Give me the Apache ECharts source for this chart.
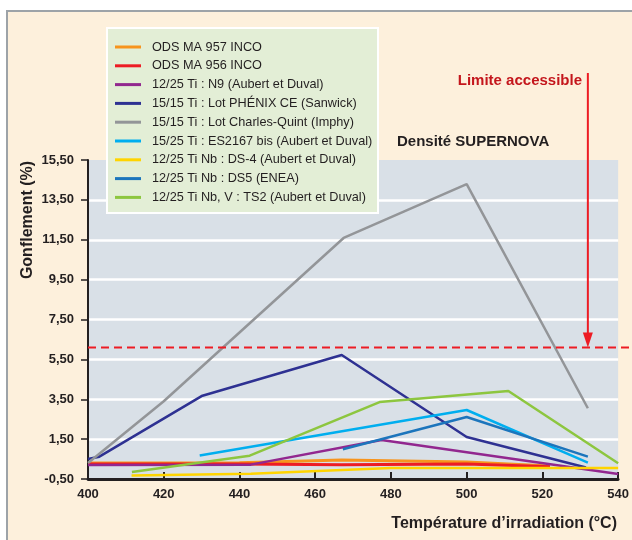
<!DOCTYPE html>
<html><head><meta charset="utf-8">
<script src="https://cdn.jsdelivr.net/npm/echarts@6/dist/echarts.min.js"></script>
<style>
html{overflow:hidden;background:#fff;}
body{margin:0;padding:0;background:#fff;}
#chart{position:absolute;left:0;top:0;width:632px;height:540px;}
</style></head>
<body><div id="chart"></div>
<script>
// ---- data ----
const seriesNames = [
  'ODS MA 957 INCO',
  'ODS MA 956 INCO',
  '12/25 Ti : N9 (Aubert et Duval)',
  '15/15 Ti : Lot PHÉNIX CE (Sanwick)',
  '15/15 Ti : Lot Charles-Quint (Imphy)',
  '15/25 Ti : ES2167 bis (Aubert et Duval)',
  '12/25 Ti Nb : DS-4 (Aubert et Duval)',
  '12/25 Ti Nb : DS5 (ENEA)',
  '12/25 Ti Nb, V : TS2 (Aubert et Duval)'
];
const ods957 = [[400,0.30],[440,0.32],[467,0.45],[500,0.35],[522,0.15]];
const ods956 = [[400,0.25],[440,0.25],[467,0.22],[500,0.25],[522,0.12]];
const n9 = [[400,0.20],[443,0.22],[477.5,1.46],[540,-0.25]];
const phenix = [[400,0.50],[403,0.62],[430,3.66],[467,5.72],[500,1.61],[531.5,0.08]];
const charlesQuint = [[400,0.30],[420,3.40],[467.5,11.59],[500,14.29],[532,3.05]];
const es2167 = [[429.5,0.68],[500,2.96],[532,0.32]];
const ds4 = [[411.5,-0.33],[443,-0.24],[480,0.05],[540,0.05]];
const ds5 = [[467.3,0.99],[500,2.61],[532,0.62]];
const ts2 = [[411.6,-0.15],[442.7,0.67],[477,3.36],[511,3.91],[540,0.29]];
const seriesData = [ods957, ods956, n9, phenix, charlesQuint, es2167, ds4, ds5, ts2];
const seriesColors = ['#F7941D','#ED1C24','#92278F','#2E3192','#939598','#00AEEF','#FFD400','#1C75BC','#8DC63F'];
const xTickLabels = [400,420,440,460,480,500,520,540];
const yTickLabels = ['-0,50','1,50','3,50','5,50','7,50','9,50','11,50','13,50','15,50'];
const densityLimit = 6.1;    // Densité SUPERNOVA (%)
const limitTemp = 532;       // Limite accessible (°C)

// ---- chart ----
const chart = echarts.init(document.getElementById('chart'), null, {renderer:'canvas'});
const dark = '#231F20';
const series = seriesNames.map((n,i)=>({
  name:n, type:'line', data:seriesData[i], symbol:'none', smooth:false,
  lineStyle:{color:seriesColors[i], width:(i<2?3:2.5)}, itemStyle:{color:seriesColors[i]},
  z: 2 + (i===6?1:0)
}));
chart.setOption({
  animation:false,
  backgroundColor:'#FFFFFF',
  textStyle:{fontFamily:'"Liberation Sans", Arial, Helvetica, sans-serif'},
  grid:{left:88, right:13, top:160, bottom:61, show:true, backgroundColor:'#D9E0E7', borderWidth:0},
  xAxis:{type:'value', min:xTickLabels[0], max:xTickLabels[xTickLabels.length-1], interval:20,
    axisLine:{onZero:false, lineStyle:{color:dark, width:2.8}},
    axisTick:{show:true, inside:true, length:7, lineStyle:{color:dark, width:2}},
    axisLabel:{color:dark, fontWeight:'bold', fontSize:13, margin:9,
      formatter:v=>String(v)},
    splitLine:{show:false}},
  yAxis:{type:'value', min:-0.5, max:15.5, interval:2,
    axisLine:{show:true, onZero:false, lineStyle:{color:dark, width:2}},
    axisTick:{show:true, inside:false, length:7, lineStyle:{color:dark, width:1.5}},
    axisLabel:{color:dark, fontWeight:'bold', fontSize:13, margin:14,
      formatter:v=>{const k=Math.round((v+0.5)/2); return yTickLabels[k]!==undefined && Math.abs(v-(-0.5+2*k))<1e-6 ? yTickLabels[k] : '';}},
    splitLine:{show:true, showMinLine:false, showMaxLine:false, lineStyle:{color:'#FFFFFF', width:2.6}}},
  legend:{orient:'vertical', left:115, top:40, padding:0, itemGap:4.8,
    itemWidth:26, itemHeight:3, icon:'rect',
    data:seriesNames,
    textStyle:{color:dark, fontSize:12.7, lineHeight:14, padding:[0,0,0,6], fontFamily:'"Liberation Sans", Arial, sans-serif'}},
  series:series
});

const p0 = chart.convertToPixel({gridIndex:0},[xTickLabels[0], densityLimit]);
const pL = chart.convertToPixel({gridIndex:0},[limitTemp, densityLimit]);
const red = '#ED1C24';
chart.setOption({
  graphic:[
    {type:'group', z:-10, children:[
      {type:'rect', z:-10, shape:{x:7,y:11,width:700,height:600}, style:{fill:'#FDF0DC', stroke:'#9DA3A8', lineWidth:2}}
    ]},
    {type:'rect', z:3, shape:{x:107,y:28,width:271,height:185}, style:{fill:'#E3EED6', stroke:'#FFFFFF', lineWidth:2}},
    {type:'line', z:5, shape:{x1:p0[0], y1:p0[1], x2:632, y2:p0[1]}, style:{stroke:red, lineWidth:2, lineDash:[8,5]}},
    {type:'line', z:5, shape:{x1:pL[0], y1:73, x2:pL[0], y2:pL[1]-12}, style:{stroke:red, lineWidth:2}},
    {type:'polygon', z:5, shape:{points:[[pL[0]-5,pL[1]-15],[pL[0]+5,pL[1]-15],[pL[0],pL[1]]]}, style:{fill:red}},
    {type:'text', z:5, x:582, y:81, style:{text:'Limite accessible', fill:'#C4161C', font:'bold 15px "Liberation Sans", Arial, sans-serif', textAlign:'right', textVerticalAlign:'middle'}},
    {type:'text', z:5, x:397, y:142, style:{text:'Densité SUPERNOVA', fill:dark, font:'bold 15px "Liberation Sans", Arial, sans-serif', textAlign:'left', textVerticalAlign:'middle'}},
    {type:'text', z:5, x:28, y:220, rotation:Math.PI/2, style:{text:'Gonflement (%)', fill:dark, font:'bold 16px "Liberation Sans", Arial, sans-serif', textAlign:'center', textVerticalAlign:'middle'}},
    {type:'text', z:5, x:617, y:524, style:{text:'Température d’irradiation (°C)', fill:dark, font:'bold 16px "Liberation Sans", Arial, sans-serif', textAlign:'right', textVerticalAlign:'middle'}}
  ]
});
</script></body></html>
